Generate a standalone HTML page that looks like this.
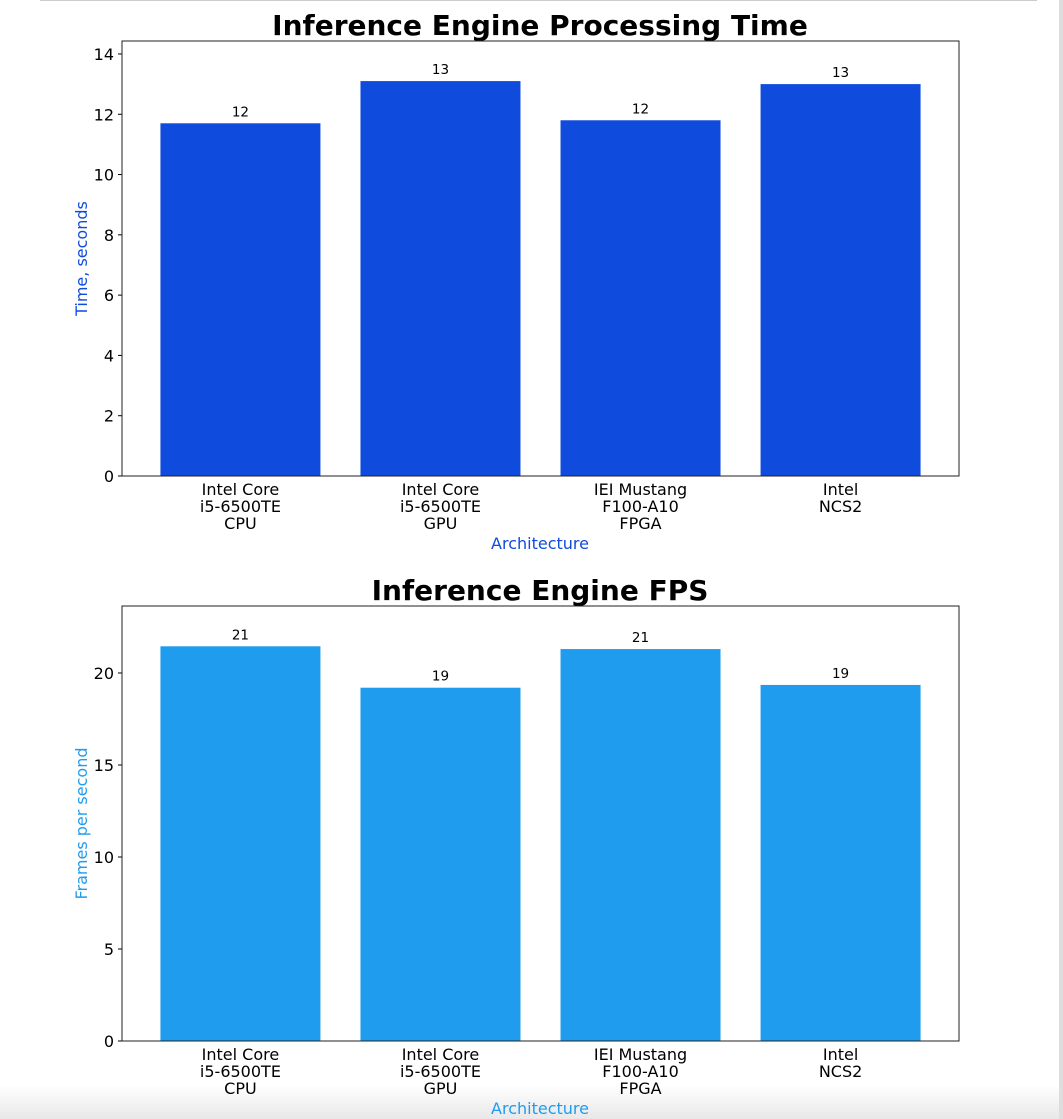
<!DOCTYPE html>
<html><head><meta charset="utf-8"><style>
html,body{margin:0;padding:0;background:#fff;width:1063px;height:1119px;overflow:hidden;font-family:"DejaVu Sans","Liberation Sans",sans-serif}
</style></head><body>
<svg id="svg" width="1063" height="1119" xmlns="http://www.w3.org/2000/svg">
<defs><linearGradient id="bg" x1="0" y1="0" x2="0" y2="1"><stop offset="0" stop-color="#fff"/><stop offset="1" stop-color="#e8e8e8"/></linearGradient></defs>
<line x1="40" y1="0.5" x2="1037" y2="0.5" stroke="#ccc"/>
<rect x="0" y="1085" width="1063" height="34" fill="url(#bg)"/>
<rect x="1059" y="0" width="4" height="1119" fill="#ddd"/>
</svg>
<script>
const categories=[["Intel Core","i5-6500TE","CPU"],[" Intel Core","i5-6500TE","GPU"],["IEI Mustang","F100-A10","FPGA"],["Intel","NCS2"]];
const timeValues=[11.7,13.1,11.8,13.0];
const fpsValues=[21.45,19.2,21.3,19.35];
const timeTicks=[0,2,4,6,8,10,12,14];
const fpsTicks=[0,5,10,15,20];
const NS="http://www.w3.org/2000/svg";
const svg=document.getElementById('svg');
function mk(t,a,txt){const e=document.createElementNS(NS,t);for(const k in a)e.setAttribute(k,a[k]);if(txt!==undefined)e.textContent=txt;svg.appendChild(e);return e;}
function chart(o){
  const L=122,R=959,T=o.top,B=o.top+435;
  const y=v=>B-(v/o.ymax)*(B-T);
  const xc=i=>L+(R-L)*(i+0.5)/categories.length*0.956+(R-L)*0.022;
  let e=mk('text',{x:540,y:T-6,'text-anchor':'middle','font-size':28,'font-weight':'bold',fill:'#000'},o.title);
  
  
  o.values.forEach((v,i)=>{
    const cx=xc(i);
    let b=mk('rect',{x:cx-80,y:y(v),width:160,height:B-y(v),fill:o.color});
    
    
    let t=mk('text',{x:cx,y:y(v)-7,'text-anchor':'middle','font-size':13.5,fill:'#000'},Math.round(v));
    
    
    categories[i].forEach((ln,j)=>{
      let c=mk('text',{x:cx,y:B+19+j*17,'text-anchor':'middle','font-size':16,fill:'#000','xml:space':'preserve'},ln);
      
      
    });
  });
  o.ticks.forEach(v=>{
    mk('line',{x1:L-4,x2:L,y1:y(v),y2:y(v),stroke:'#000'});
    let t=mk('text',{x:L-8,y:y(v)+6,'text-anchor':'end','font-size':16,fill:'#000'},v);
    
    
  });
  let f=mk('rect',{x:L,y:T,width:R-L,height:B-T,fill:'none',stroke:'#222','stroke-width':1});
  
  
  let xl=mk('text',{x:540,y:B+73,'text-anchor':'middle','font-size':16,fill:o.lab},'Architecture');
  
  
  const my=(T+B)/2;
  let yl=mk('text',{x:87,y:my,'text-anchor':'middle','font-size':16,fill:o.lab,transform:`rotate(-90 87 ${my})`},o.ylabel);
  
  
}
chart({key:'time',top:41,ymax:14.43,values:timeValues,ticks:timeTicks,title:'Inference Engine Processing Time',ylabel:'Time, seconds',color:'#0f4bdc',lab:'#0f4bdc'});
chart({key:'fps',top:606,ymax:23.64,values:fpsValues,ticks:fpsTicks,title:'Inference Engine FPS',ylabel:'Frames per second',color:'#1f9cee',lab:'#1f9cee'});
</script>
</body></html>
